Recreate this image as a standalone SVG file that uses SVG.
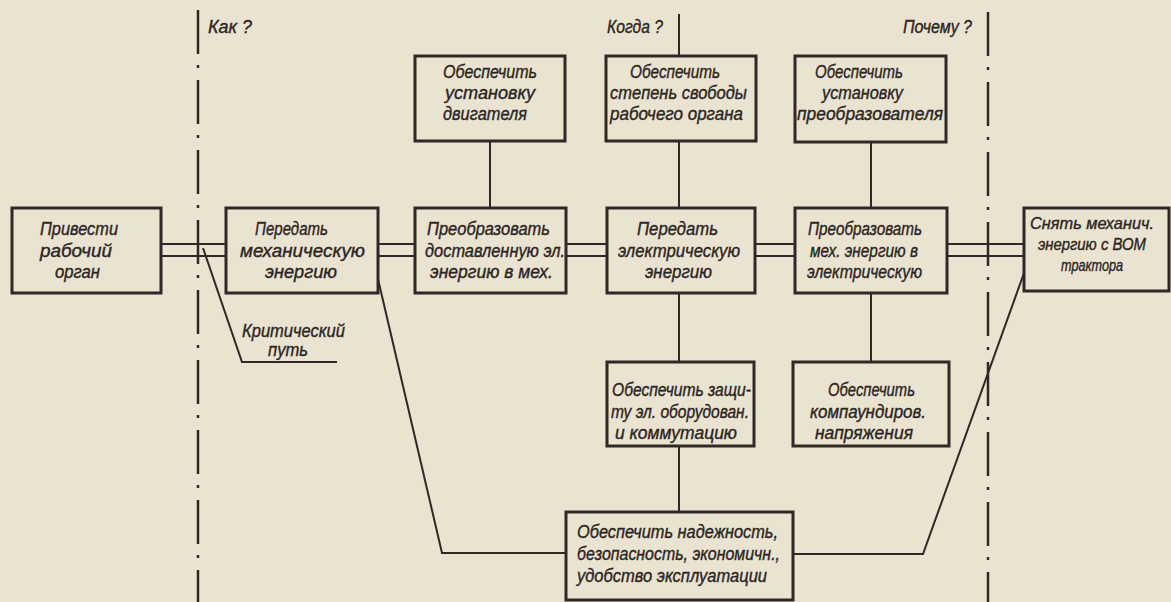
<svg xmlns="http://www.w3.org/2000/svg" width="1171" height="602" viewBox="0 0 1171 602">
<style>
.bg{fill:#ebe3d1}
.box{fill:none;stroke:#2e2924;stroke-width:3}
.ln{fill:none;stroke:#2e2924;stroke-width:2}
.dd{fill:none;stroke:#2e2924;stroke-width:2.5;stroke-dasharray:44 11 3 12}
text{font-family:"Liberation Sans","DejaVu Sans",sans-serif;font-style:italic;font-size:19px;fill:#2b2622;stroke:#2b2622;stroke-width:0.4}
text.sm{font-size:17px}
</style>
<rect class="bg" x="0" y="0" width="1171" height="602"/>
<g id="axes">
<line class="dd" x1="198" y1="10" x2="198" y2="602"/>
<line class="dd" x1="988" y1="12" x2="988" y2="602"/>
<text x="208" y="33" textLength="44" lengthAdjust="spacingAndGlyphs">Как ?</text>
<text x="607" y="33" textLength="56" lengthAdjust="spacingAndGlyphs">Когда ?</text>
<text x="903" y="33" textLength="69" lengthAdjust="spacingAndGlyphs">Почему ?</text>
</g>
<g id="connectors">
<line class="ln" x1="679" y1="14" x2="679" y2="56"/>
<line class="ln" x1="490" y1="141" x2="490" y2="208"/>
<line class="ln" x1="679" y1="141" x2="679" y2="208"/>
<line class="ln" x1="871" y1="142" x2="871" y2="208"/>
<line class="ln" x1="679" y1="293" x2="679" y2="362"/>
<line class="ln" x1="871" y1="293" x2="871" y2="362"/>
<line class="ln" x1="679" y1="446" x2="679" y2="512"/>
<path class="ln" d="M161 244H226M161 256H226M378 244H415M378 256H415M566 244H607M566 256H607M755 244H795M755 256H795M947 244H1024M947 256H1024"/>
<polyline class="ln" points="378,279 442,553 566,553"/>
<polyline class="ln" points="1024,273 923,554 793,554"/>
<polyline class="ln" points="203,248 242,362 337,362"/>
<text x="242" y="337" textLength="103" lengthAdjust="spacingAndGlyphs">Критический</text>
<text x="268" y="356" textLength="40" lengthAdjust="spacingAndGlyphs">путь</text>
</g>
<g id="n1">
<rect class="box" x="12" y="208" width="149" height="85"/>
<text x="40" y="235" textLength="78" lengthAdjust="spacingAndGlyphs">Привести</text>
<text x="40" y="257" textLength="72" lengthAdjust="spacingAndGlyphs">рабочий</text>
<text x="55" y="278" textLength="45" lengthAdjust="spacingAndGlyphs">орган</text>
</g>
<g id="n2">
<rect class="box" x="226" y="208" width="152" height="85"/>
<text x="255" y="235" textLength="73" lengthAdjust="spacingAndGlyphs">Передать</text>
<text x="240" y="257" textLength="125" lengthAdjust="spacingAndGlyphs">механическую</text>
<text x="265" y="278" textLength="72" lengthAdjust="spacingAndGlyphs">энергию</text>
</g>
<g id="n3">
<rect class="box" x="415" y="208" width="151" height="85"/>
<text x="427" y="235" textLength="123" lengthAdjust="spacingAndGlyphs">Преобразовать</text>
<text x="425" y="257" textLength="140" lengthAdjust="spacingAndGlyphs">доставленную эл.</text>
<text x="430" y="278" textLength="123" lengthAdjust="spacingAndGlyphs">энергию в мех.</text>
</g>
<g id="n4">
<rect class="box" x="607" y="208" width="148" height="85"/>
<text x="637" y="235" textLength="81" lengthAdjust="spacingAndGlyphs">Передать</text>
<text x="618" y="257" textLength="122" lengthAdjust="spacingAndGlyphs">электрическую</text>
<text x="645" y="278" textLength="67" lengthAdjust="spacingAndGlyphs">энергию</text>
</g>
<g id="n5">
<rect class="box" x="795" y="208" width="152" height="85"/>
<text x="808" y="235" textLength="114" lengthAdjust="spacingAndGlyphs">Преобразовать</text>
<text x="810" y="257" textLength="108" lengthAdjust="spacingAndGlyphs">мех. энергию в</text>
<text x="807" y="278" textLength="115" lengthAdjust="spacingAndGlyphs">электрическую</text>
</g>
<g id="n6">
<rect class="box" x="1024" y="208" width="145" height="83"/>
<text class="sm" x="1030" y="229" textLength="124" lengthAdjust="spacingAndGlyphs">Снять механич.</text>
<text class="sm" x="1038" y="250" textLength="108" lengthAdjust="spacingAndGlyphs">энергию с ВОМ</text>
<text class="sm" x="1061" y="271" textLength="62" lengthAdjust="spacingAndGlyphs">трактора</text>
</g>
<g id="t1">
<rect class="box" x="415" y="56" width="150" height="85"/>
<text x="443" y="78" textLength="94" lengthAdjust="spacingAndGlyphs">Обеспечить</text>
<text x="445" y="99" textLength="90" lengthAdjust="spacingAndGlyphs">установку</text>
<text x="443" y="120" textLength="84" lengthAdjust="spacingAndGlyphs">двигателя</text>
</g>
<g id="t2">
<rect class="box" x="606" y="56" width="150" height="85"/>
<text x="630" y="78" textLength="90" lengthAdjust="spacingAndGlyphs">Обеспечить</text>
<text x="610" y="99" textLength="137" lengthAdjust="spacingAndGlyphs">степень свободы</text>
<text x="610" y="120" textLength="133" lengthAdjust="spacingAndGlyphs">рабочего органа</text>
</g>
<g id="t3">
<rect class="box" x="795" y="56" width="151" height="86"/>
<text x="815" y="78" textLength="88" lengthAdjust="spacingAndGlyphs">Обеспечить</text>
<text x="822" y="99" textLength="81" lengthAdjust="spacingAndGlyphs">установку</text>
<text x="797" y="120" textLength="146" lengthAdjust="spacingAndGlyphs">преобразователя</text>
</g>
<g id="m1">
<rect class="box" x="607" y="362" width="147" height="84"/>
<text x="612" y="396" textLength="139" lengthAdjust="spacingAndGlyphs">Обеспечить защи-</text>
<text x="611" y="418" textLength="138" lengthAdjust="spacingAndGlyphs">ту эл. оборудован.</text>
<text x="615" y="439" textLength="122" lengthAdjust="spacingAndGlyphs">и коммутацию</text>
</g>
<g id="m2">
<rect class="box" x="793" y="362" width="156" height="84"/>
<text x="828" y="396" textLength="87" lengthAdjust="spacingAndGlyphs">Обеспечить</text>
<text x="810" y="418" textLength="116" lengthAdjust="spacingAndGlyphs">компаундиров.</text>
<text x="815" y="439" textLength="98" lengthAdjust="spacingAndGlyphs">напряжения</text>
</g>
<g id="b1">
<rect class="box" x="566" y="512" width="227" height="88"/>
<text x="577" y="538" textLength="201" lengthAdjust="spacingAndGlyphs">Обеспечить надежность,</text>
<text x="577" y="560" textLength="203" lengthAdjust="spacingAndGlyphs">безопасность, экономичн.,</text>
<text x="577" y="582" textLength="190" lengthAdjust="spacingAndGlyphs">удобство эксплуатации</text>
</g>
</svg>
